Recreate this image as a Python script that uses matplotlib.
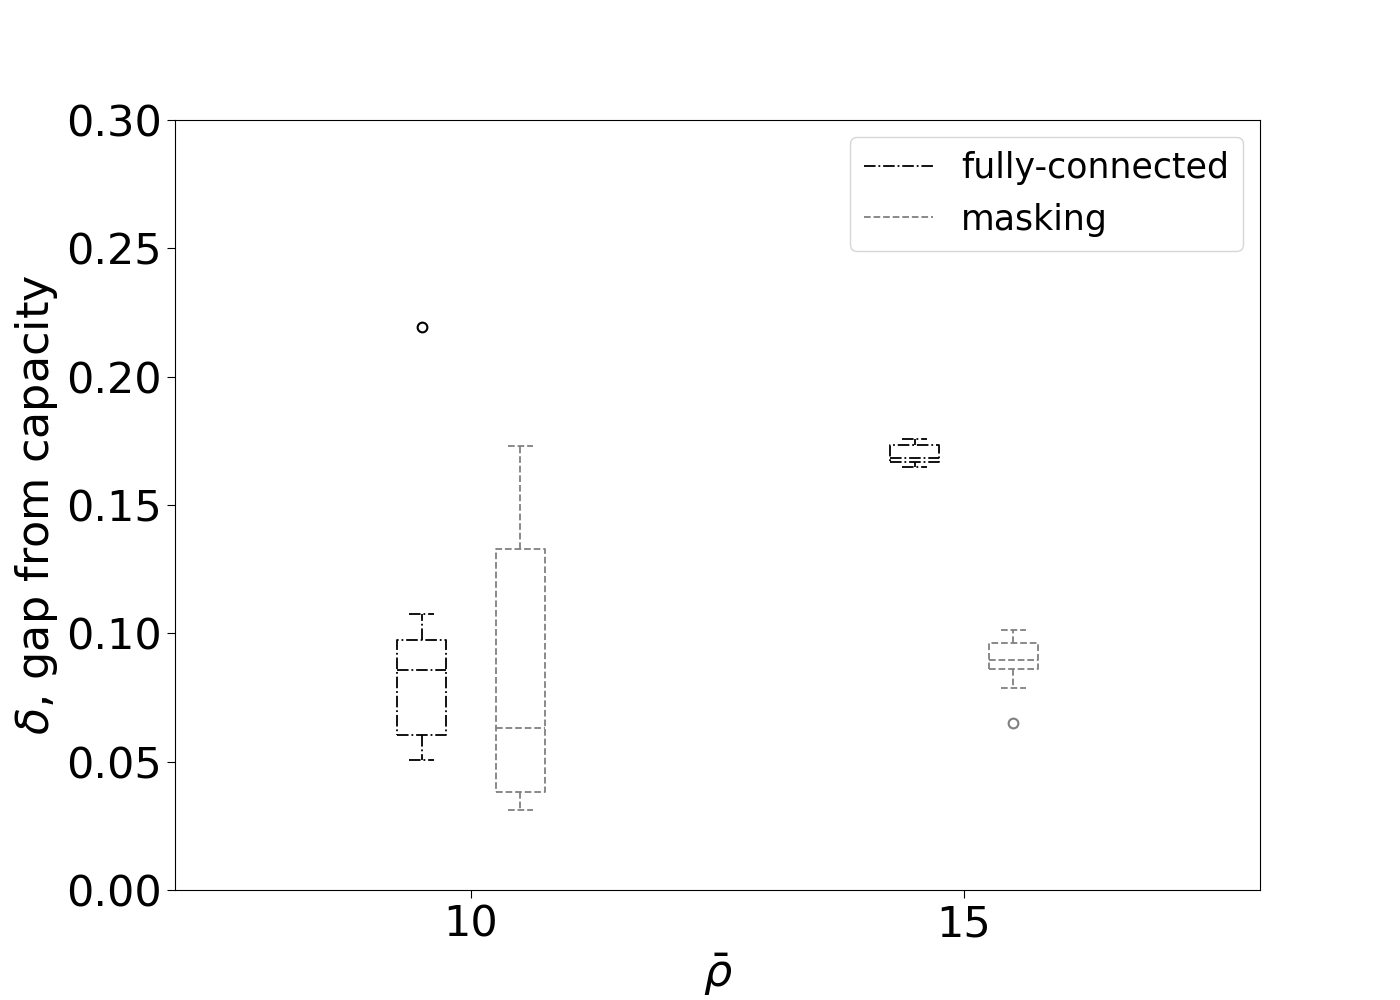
import numpy as np
import matplotlib
matplotlib.use("Agg")
import matplotlib.pyplot as plt
from matplotlib.lines import Line2D

# rho-bar groups
rho = [10, 15]

# box statistics (whislo, q1, med, q3, whishi, fliers)
fc_whislo = [0.0507, 0.1650]
fc_q1 = [0.0605, 0.1668]
fc_med = [0.0858, 0.1683]
fc_q3 = [0.0975, 0.1733]
fc_whishi = [0.1077, 0.1756]
fc_fliers = [[0.2193], []]

mask_whislo = [0.0312, 0.0788]
mask_q1 = [0.0382, 0.0862]
mask_med = [0.0632, 0.0897]
mask_q3 = [0.1327, 0.0964]
mask_whishi = [0.1728, 0.1014]
mask_fliers = [[], [0.0652]]

labels = ["fully-connected", "masking"]


def make_stats(lo, q1, med, q3, hi, fl):
    return [dict(whislo=lo[k], q1=q1[k], med=med[k], q3=q3[k], whishi=hi[k], fliers=fl[k])
            for k in range(len(lo))]


fig, ax = plt.subplots(figsize=(14, 10), dpi=100)

lw = 1.3
styles = [("black", "-."), ("gray", "--")]
series = [make_stats(fc_whislo, fc_q1, fc_med, fc_q3, fc_whishi, fc_fliers),
          make_stats(mask_whislo, mask_q1, mask_med, mask_q3, mask_whishi, mask_fliers)]
offsets = [-0.5, 0.5]

for stats, (col, ls), off in zip(series, styles, offsets):
    lp = dict(color=col, linestyle=ls, linewidth=lw)
    ax.bxp(stats, positions=[r + off for r in rho], widths=0.5,
           boxprops=lp, whiskerprops=lp, capprops=lp, medianprops=lp,
           flierprops=dict(marker='o', markerfacecolor='none', markeredgecolor=col,
                           markersize=7, markeredgewidth=1.5),
           manage_ticks=False)

ax.set_xlim(7, 18)
ax.set_ylim(0, 0.30)
ax.set_xticks(rho)
ax.set_xticklabels([str(r) for r in rho])
ax.set_yticks(np.arange(0, 0.31, 0.05))
ax.set_yticklabels(["%.2f" % v for v in np.arange(0, 0.31, 0.05)])
ax.tick_params(labelsize=31, length=6)

ax.set_xlabel(r"$\bar{\rho}$", fontsize=32)
ax.set_ylabel(r"$\delta$, gap from capacity", fontsize=32)

handles = [Line2D([0], [0], color=c, linestyle=s, linewidth=lw) for c, s in styles]
ax.legend(handles, labels, loc="upper right", fontsize=25)

fig.subplots_adjust(left=0.125, right=0.9, top=0.88, bottom=0.11)
fig.savefig("out.png", dpi=100)
